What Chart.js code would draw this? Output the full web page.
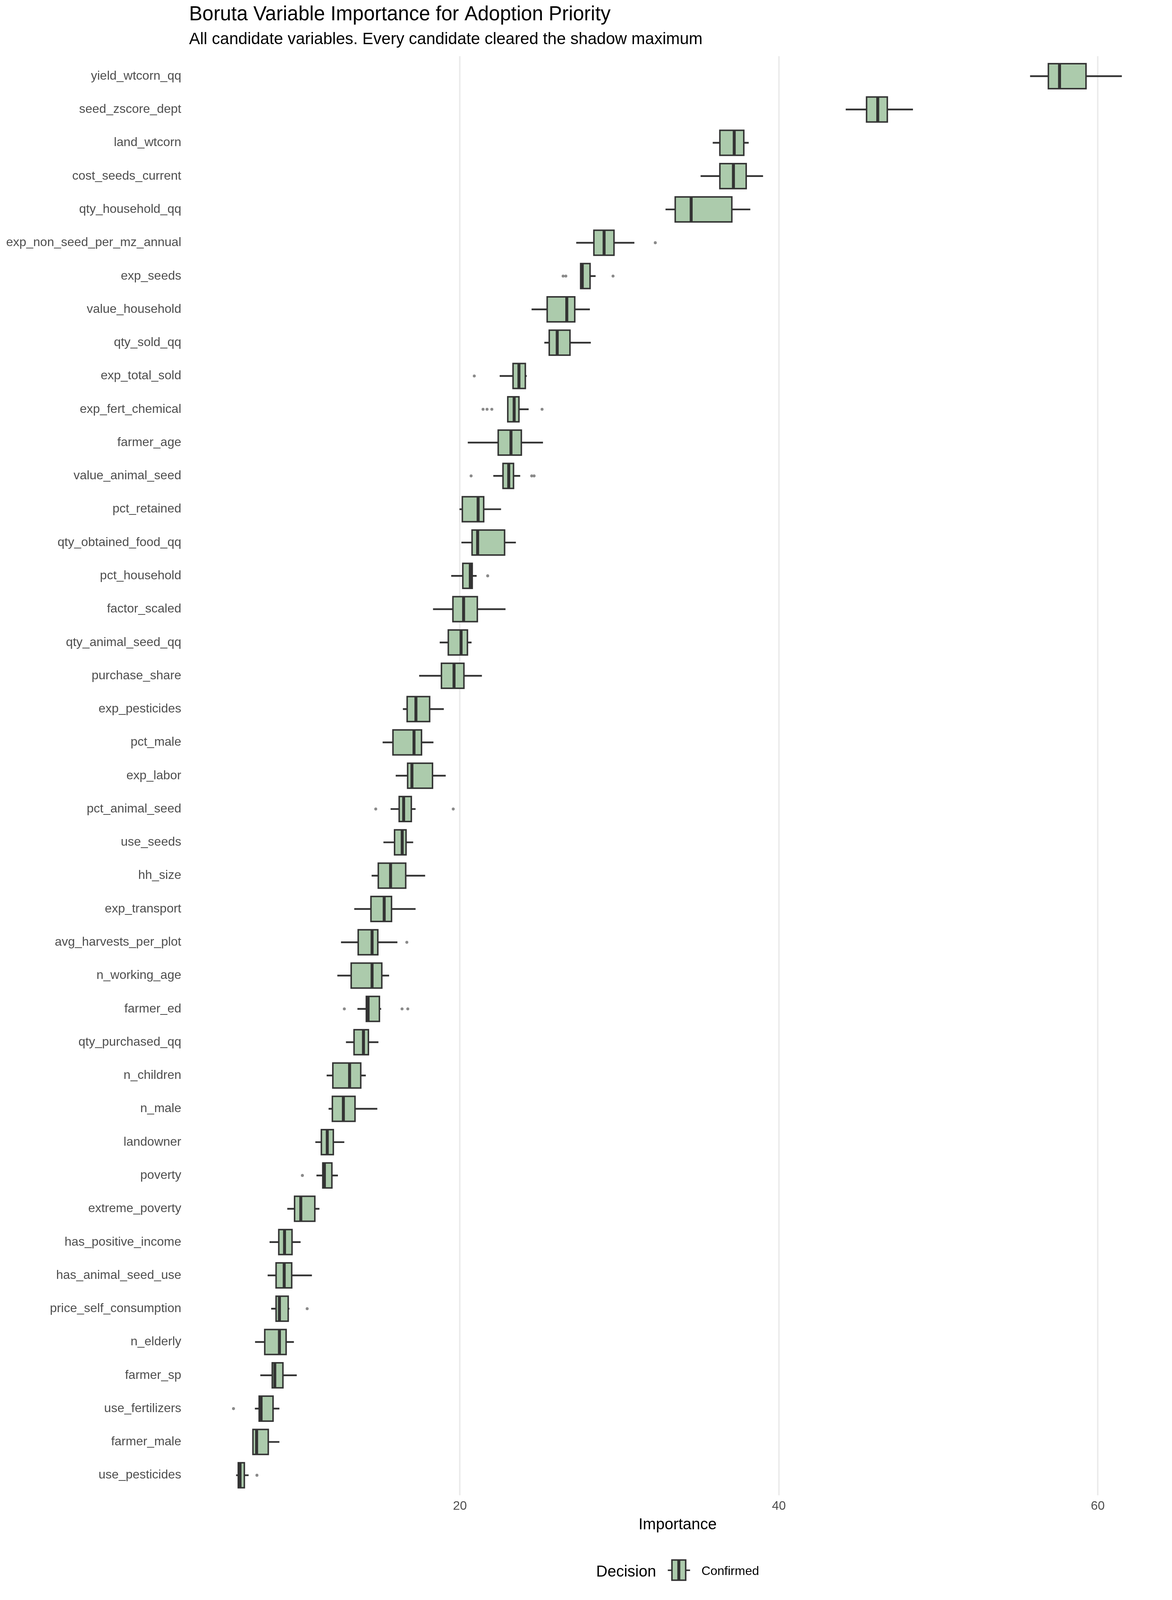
<!DOCTYPE html>
<html>
<head>
<meta charset="utf-8">
<title>Boruta Variable Importance</title>
<script src="https://cdn.jsdelivr.net/npm/chart.js@4.4.1/dist/chart.umd.min.js"></script>
<style>
  html, body { margin: 0; padding: 0; background: #ffffff; overflow: hidden; }
  #wrap { width: 3000px; height: 4096px; }
</style>
</head>
<body>
<div id="wrap"><canvas id="borutaChart" width="3000" height="4096"></canvas></div>
<script>
// variables, top to bottom
const categories = [
    'yield_wtcorn_qq', 'seed_zscore_dept', 'land_wtcorn', 'cost_seeds_current', 'qty_household_qq',
    'exp_non_seed_per_mz_annual', 'exp_seeds', 'value_household', 'qty_sold_qq', 'exp_total_sold',
    'exp_fert_chemical', 'farmer_age', 'value_animal_seed', 'pct_retained', 'qty_obtained_food_qq',
    'pct_household', 'factor_scaled', 'qty_animal_seed_qq', 'purchase_share', 'exp_pesticides',
    'pct_male', 'exp_labor', 'pct_animal_seed', 'use_seeds', 'hh_size',
    'exp_transport', 'avg_harvests_per_plot', 'n_working_age', 'farmer_ed', 'qty_purchased_qq',
    'n_children', 'n_male', 'landowner', 'poverty', 'extreme_poverty',
    'has_positive_income', 'has_animal_seed_use', 'price_self_consumption', 'n_elderly', 'farmer_sp',
    'use_fertilizers', 'farmer_male', 'use_pesticides'
];

const whiskerLow = [
    55.76, 44.2, 35.86, 35.1, 32.9,
    27.3, 27.57, 24.5, 25.3, 22.5,
    23.0, 20.5, 22.1, 19.98, 20.1,
    19.46, 18.32, 18.74, 17.45, 16.43,
    15.16, 15.98, 15.66, 15.21, 14.47,
    13.38, 12.55, 12.32, 13.58, 12.86,
    11.65, 11.77, 10.94, 11.01, 9.18,
    8.07, 7.95, 8.17, 7.16, 7.49,
    7.15, 7.02, 5.97
];

const boxLow = [
    56.9, 45.5, 36.3, 36.3, 33.5,
    28.4, 27.57, 25.47, 25.6, 23.33,
    23.0, 22.4, 22.7, 20.15, 20.76,
    20.18, 19.56, 19.27, 18.84, 16.69,
    15.8, 16.72, 16.19, 15.9, 14.88,
    14.42, 13.62, 13.18, 14.13, 13.36,
    12.03, 12.0, 11.31, 11.4, 9.63,
    8.64, 8.47, 8.47, 7.76, 8.23,
    7.41, 7.02, 6.1
];

const medians = [
    57.6, 46.2, 37.2, 37.15, 34.5,
    29.04, 27.67, 26.7, 26.1, 23.7,
    23.4, 23.2, 23.06, 21.14, 21.11,
    20.65, 20.23, 20.07, 19.63, 17.24,
    17.12, 16.99, 16.47, 16.38, 15.65,
    15.25, 14.49, 14.49, 14.24, 13.95,
    13.08, 12.69, 11.68, 11.5, 10.02,
    9.0, 8.98, 8.68, 8.68, 8.39,
    7.53, 7.25, 6.21
];

const boxHigh = [
    59.26, 46.8, 37.8, 37.95, 37.05,
    29.66, 28.16, 27.2, 26.9, 24.1,
    23.7, 23.85, 23.36, 21.49, 22.8,
    20.77, 21.09, 20.47, 20.25, 18.1,
    17.59, 18.28, 16.95, 16.62, 16.6,
    15.71, 14.85, 15.1, 14.95, 14.26,
    13.78, 13.42, 12.06, 11.97, 10.9,
    9.47, 9.45, 9.23, 9.1, 8.9,
    8.28, 7.98, 6.48
];

const whiskerHigh = [
    61.5, 48.4, 38.1, 39.0, 38.2,
    30.93, 28.5, 28.14, 28.2, 24.18,
    24.3, 25.2, 23.77, 22.57, 23.5,
    21.04, 22.85, 20.72, 21.37, 18.98,
    18.33, 19.1, 17.21, 17.06, 17.81,
    17.21, 16.07, 15.55, 15.05, 14.88,
    14.09, 14.81, 12.74, 12.34, 11.18,
    10.0, 10.71, 9.3, 9.58, 9.76,
    8.67, 8.67, 6.74
];

const outliers = [
    [], [], [], [], [],
    [32.25], [26.47, 26.64, 29.6], [], [], [20.9],
    [21.45, 21.7, 22.0, 25.15], [], [20.7, 24.5, 24.65], [], [],
    [21.74], [], [], [], [],
    [], [], [14.72, 19.58], [], [],
    [], [16.67], [], [12.75, 16.37, 16.73], [],
    [], [], [], [10.12], [],
    [], [], [10.42], [], [],
    [5.8], [], [7.27]
];

const xTicks = [20, 40, 60];

const titleText = 'Boruta Variable Importance for Adoption Priority';
const subtitleText = 'All candidate variables. Every candidate cleared the shadow maximum';
const xTitle = 'Importance';
const legendTitle = 'Decision';
const legendLabel = 'Confirmed';

const FONT = "'Liberation Sans', Arial, Helvetica, sans-serif";
const BOX_FILL = '#accbac';
const DARK = '#333333';
const LINE_W = 3.8;

// the picture comes back 4096 tall, so vertical layout is fitted into that
const SY = 4096 / 4200;

// outline + median drawn on top of the floating bars
const boxOutline = {
    id: 'boxOutline',
    afterDatasetsDraw(chart) {
        const ctx = chart.ctx;
        const xScale = chart.scales.x;
        const meta = chart.getDatasetMeta(0);
        ctx.save();
        ctx.strokeStyle = DARK;
        meta.data.forEach((bar, i) => {
            const p = bar.getProps(['x', 'base', 'y', 'height'], true);
            const left = Math.min(p.x, p.base);
            const right = Math.max(p.x, p.base);
            const top = p.y - p.height / 2;
            ctx.lineWidth = LINE_W;
            ctx.strokeRect(left, top, right - left, p.height);
            const mx = xScale.getPixelForValue(medians[i]);
            ctx.lineWidth = LINE_W * 2;
            ctx.beginPath();
            ctx.moveTo(mx, top);
            ctx.lineTo(mx, top + p.height);
            ctx.stroke();
        });
        ctx.restore();
    }
};

// axis title and the ggplot-style legend below the panel
const bottomText = {
    id: 'bottomText',
    afterDraw(chart) {
        const ctx = chart.ctx;
        const area = chart.chartArea;
        const cx = (area.left + area.right) / 2;
        ctx.save();
        ctx.fillStyle = '#000000';
        ctx.textBaseline = 'alphabetic';

        ctx.font = '40px ' + FONT;
        ctx.textAlign = 'center';
        ctx.fillText(xTitle, cx, 4014 * SY);

        ctx.textAlign = 'left';
        const w1 = ctx.measureText(legendTitle).width;
        ctx.font = '32px ' + FONT;
        const w2 = ctx.measureText(legendLabel).width;
        const keyW = 57;
        const total = w1 + 30 + keyW + 29 + w2;
        let x = cx - total / 2;

        ctx.font = '40px ' + FONT;
        ctx.fillText(legendTitle, x, 4138 * SY);
        x += w1 + 30;

        // key: whisker stubs, box, median
        const ky = 4122 * SY;
        const kTop = 4095 * SY;
        const kH = 53 * SY;
        ctx.strokeStyle = DARK;
        ctx.lineWidth = LINE_W;
        ctx.beginPath();
        ctx.moveTo(x, ky); ctx.lineTo(x + 10, ky);
        ctx.moveTo(x + 46, ky); ctx.lineTo(x + keyW, ky);
        ctx.stroke();
        ctx.fillStyle = BOX_FILL;
        ctx.fillRect(x + 10.6, kTop, 35.2, kH);
        ctx.strokeRect(x + 10.6, kTop, 35.2, kH);
        ctx.lineWidth = LINE_W * 2;
        ctx.beginPath();
        ctx.moveTo(x + 28.2, kTop); ctx.lineTo(x + 28.2, kTop + kH);
        ctx.stroke();
        x += keyW + 29;

        ctx.fillStyle = '#000000';
        ctx.font = '32px ' + FONT;
        ctx.fillText(legendLabel, x, 4134 * SY);
        ctx.restore();
    }
};

const boxData = categories.map((c, i) => ({x: [boxLow[i], boxHigh[i]], y: i}));
const whiskerData = categories.map((c, i) => ({x: [whiskerLow[i], whiskerHigh[i]], y: i}));
const outlierData = outliers.flatMap((list, i) => list.map(v => ({x: v, y: i})));

const borutaChart = new Chart(
    document.getElementById('borutaChart'),
    {
        type: 'bar',
        data: {
            datasets: [
                {
                    label: 'box',
                    data: boxData,
                    indexAxis: 'y',
                    grouped: false,
                    barThickness: 65.6 * SY,
                    backgroundColor: BOX_FILL,
                    borderWidth: 0,
                    order: 2
                },
                {
                    label: 'whisker',
                    data: whiskerData,
                    indexAxis: 'y',
                    grouped: false,
                    barThickness: LINE_W,
                    backgroundColor: DARK,
                    borderWidth: 0,
                    order: 3
                },
                {
                    type: 'scatter',
                    label: 'outliers',
                    data: outlierData,
                    pointRadius: 3.8,
                    pointBackgroundColor: '#8a8a8a',
                    pointBorderWidth: 0,
                    order: 1
                }
            ]
        },
        options: {
            indexAxis: 'y',
            responsive: false,
            animation: false,
            devicePixelRatio: 1,
            layout: {padding: {left: 0, right: 15, top: 0, bottom: 0}},
            plugins: {
                legend: {display: false},
                tooltip: {enabled: false},
                title: {
                    display: true,
                    text: titleText,
                    align: 'start',
                    fullSize: false,
                    color: '#000000',
                    font: {family: FONT, size: 51, weight: 'normal'},
                    padding: {top: 7.6, bottom: 0}
                },
                subtitle: {
                    display: true,
                    text: subtitleText,
                    align: 'start',
                    fullSize: false,
                    color: '#000000',
                    font: {family: FONT, size: 42, weight: 'normal'},
                    padding: {top: 7.5, bottom: 17.15}
                }
            },
            scales: {
                x: {
                    type: 'linear',
                    position: 'bottom',
                    min: 3.015,
                    max: 64.285,
                    afterBuildTicks: (scale) => { scale.ticks = xTicks.map(v => ({value: v})); },
                    afterFit: (scale) => { scale.height = 4096 - 3925 * SY; },
                    grid: {color: '#ebebeb', lineWidth: LINE_W, drawTicks: false},
                    border: {display: false},
                    ticks: {
                        color: '#4d4d4d',
                        padding: 9,
                        font: {family: FONT, size: 32},
                        maxRotation: 0
                    }
                },
                y: {
                    type: 'linear',
                    reverse: true,
                    offset: false,
                    min: -0.6,
                    max: categories.length - 0.4,
                    afterBuildTicks: (scale) => { scale.ticks = categories.map((c, i) => ({value: i})); },
                    afterFit: (scale) => { scale.width = 484; },
                    grid: {display: false, offset: false},
                    border: {display: false},
                    ticks: {
                        autoSkip: false,
                        color: '#4d4d4d',
                        padding: 12,
                        font: {family: FONT, size: 32},
                        callback: (value) => categories[value]
                    }
                }
            }
        },
        plugins: [boxOutline, bottomText]
    }
);
</script>
</body>
</html>
